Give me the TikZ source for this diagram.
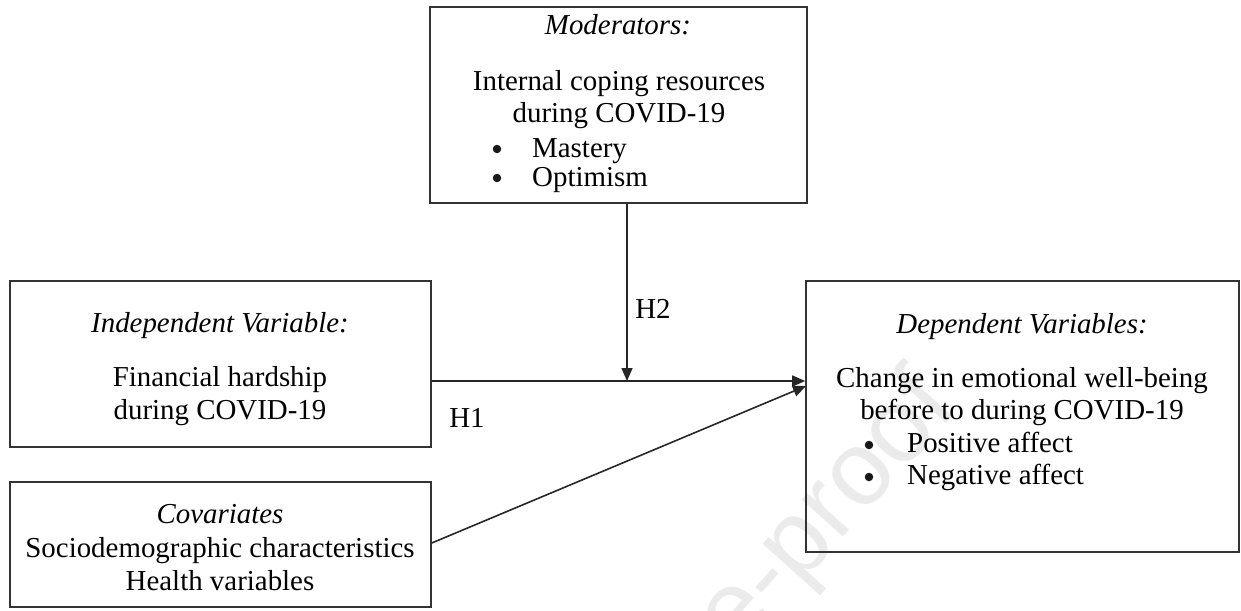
\documentclass[tikz,border=0pt]{standalone}
\usepackage{fontspec}
\setmainfont{Liberation Serif}
\newfontfamily\wmfont{Liberation Sans}
\usetikzlibrary{arrows.meta}
\tikzset{
  box/.style={draw=black!80, line width=1.6pt, rectangle, inner sep=0pt},
  txt/.style={inner sep=0pt, font=\fontsize{28.9}{34}\selectfont, anchor=base},
  lbl/.style={inner sep=0pt, font=\fontsize{28.9}{34}\selectfont, anchor=base},
  dot/.style={circle, fill=black!90, inner sep=0pt, minimum size=8.5pt},
  arr/.style={draw=black!85, line width=1.6pt, -{Triangle[length=13pt,width=11pt]}},
}
\begin{document}
\begin{tikzpicture}[x=1pt,y=-1pt]
\useasboundingbox (0,0) rectangle (1241,610);
\begin{scope}
\clip (0,0) rectangle (1241,610);
\node[rotate=48, text=black!8, font=\wmfont\fontsize{105}{110}\selectfont, anchor=base east, inner sep=0pt] (wm) at (960,408) {Journal Pre-proof};
\end{scope}
% boxes
\node[box, minimum width=377pt, minimum height=196pt] (mod) at (618.5,105) {};
\node[box, minimum width=421pt, minimum height=166pt] (ind) at (220.5,364) {};
\node[box, minimum width=421pt, minimum height=125pt] (cov) at (220.5,544.5) {};
\node[box, minimum width=433pt, minimum height=271pt] (dep) at (1022.5,416.5) {};
% moderator text
\node[txt] (modh) at (618,35) {\itshape Moderators:};
\node[txt] (mod1) at (619,90) {Internal coping resources};
\node[txt] (mod2) at (619,122) {during COVID-19};
\node[txt, anchor=base west] (mod3) at (532,157) {Mastery};
\node[txt, anchor=base west] (mod4) at (532,186) {Optimism};
\node[dot] (mb1) at (497,149) {};
\node[dot] (mb2) at (497,178) {};
% independent
\node[txt] (indh) at (220,332) {\itshape Independent Variable:};
\node[txt] (ind1) at (220,386) {Financial hardship};
\node[txt] (ind2) at (220,419) {during COVID-19};
% covariates
\node[txt] (covh) at (220,523) {\itshape Covariates};
\node[txt] (cov1) at (220,557) {Sociodemographic characteristics};
\node[txt] (cov2) at (220,590) {Health variables};
% dependent
\node[txt] (deph) at (1022,333) {\itshape Dependent Variables:};
\node[txt] (dep1) at (1022,387) {Change in emotional well-being};
\node[txt] (dep2) at (1022,419) {before to during COVID-19};
\node[txt, anchor=base west] (dep3) at (907,452) {Positive affect};
\node[txt, anchor=base west] (dep4) at (907,484) {Negative affect};
\node[dot] (db1) at (869,445) {};
\node[dot] (db2) at (869,477) {};
% connectors
\coordinate (j) at (627,381);
\coordinate (ce) at (806,386);
\draw[arr] (ind.east |- j) -- (dep.west |- j);
\draw[arr] (mod.south -| j) -- (j);
\draw[arr] (cov.east |- 0,543) -- (ce);
% labels
\node[lbl] (h2) at (653,318) {H2};
\node[lbl] (h1) at (467,427) {H1};
\end{tikzpicture}
\end{document}
